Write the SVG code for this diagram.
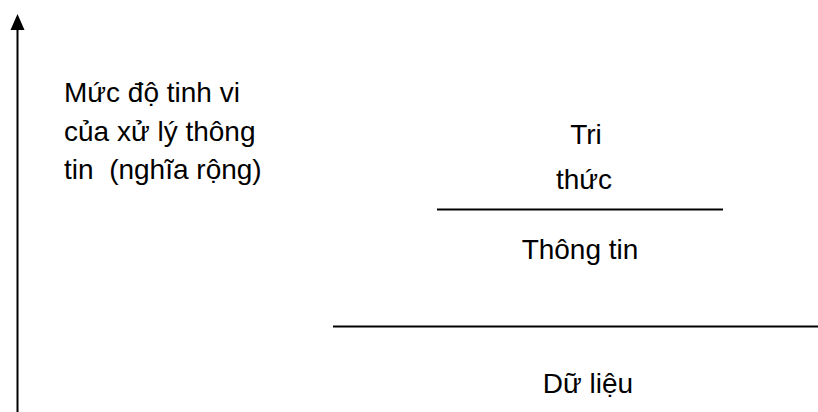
<svg xmlns="http://www.w3.org/2000/svg" width="818" height="412" viewBox="0 0 818 412">
<style>
text{font-family:"Liberation Sans","Open Sans",sans-serif;font-size:28px;fill:#000;white-space:pre}
.c{text-anchor:middle}
.ln{stroke:#000;stroke-width:2;fill:none}
</style>
<rect width="818" height="412" fill="#fff"/>
<g id="connectors">
<line class="ln" x1="17.5" y1="412" x2="17.5" y2="28" stroke-width="2.5"/>
<polygon points="17.5,14 10.5,30 24.5,30" fill="#000"/>
<line class="ln" x1="437" y1="209.5" x2="723" y2="209.5"/>
<line class="ln" x1="333" y1="326.5" x2="818" y2="326.5"/>
</g>
<g id="axis-label">
<text x="64" y="102">Mức độ tinh vi</text>
<text x="64" y="141">của xử lý thông</text>
<text x="64" y="179" xml:space="preserve">tin  (nghĩa rộng)</text>
</g>
<g id="tri-thuc">
<text class="c" x="586" y="144">Tri</text>
<text class="c" x="584" y="189">thức</text>
</g>
<g id="thong-tin">
<text class="c" x="580" y="259">Thông tin</text>
</g>
<g id="du-lieu">
<text class="c" x="588" y="393">Dữ liệu</text>
</g>
</svg>
